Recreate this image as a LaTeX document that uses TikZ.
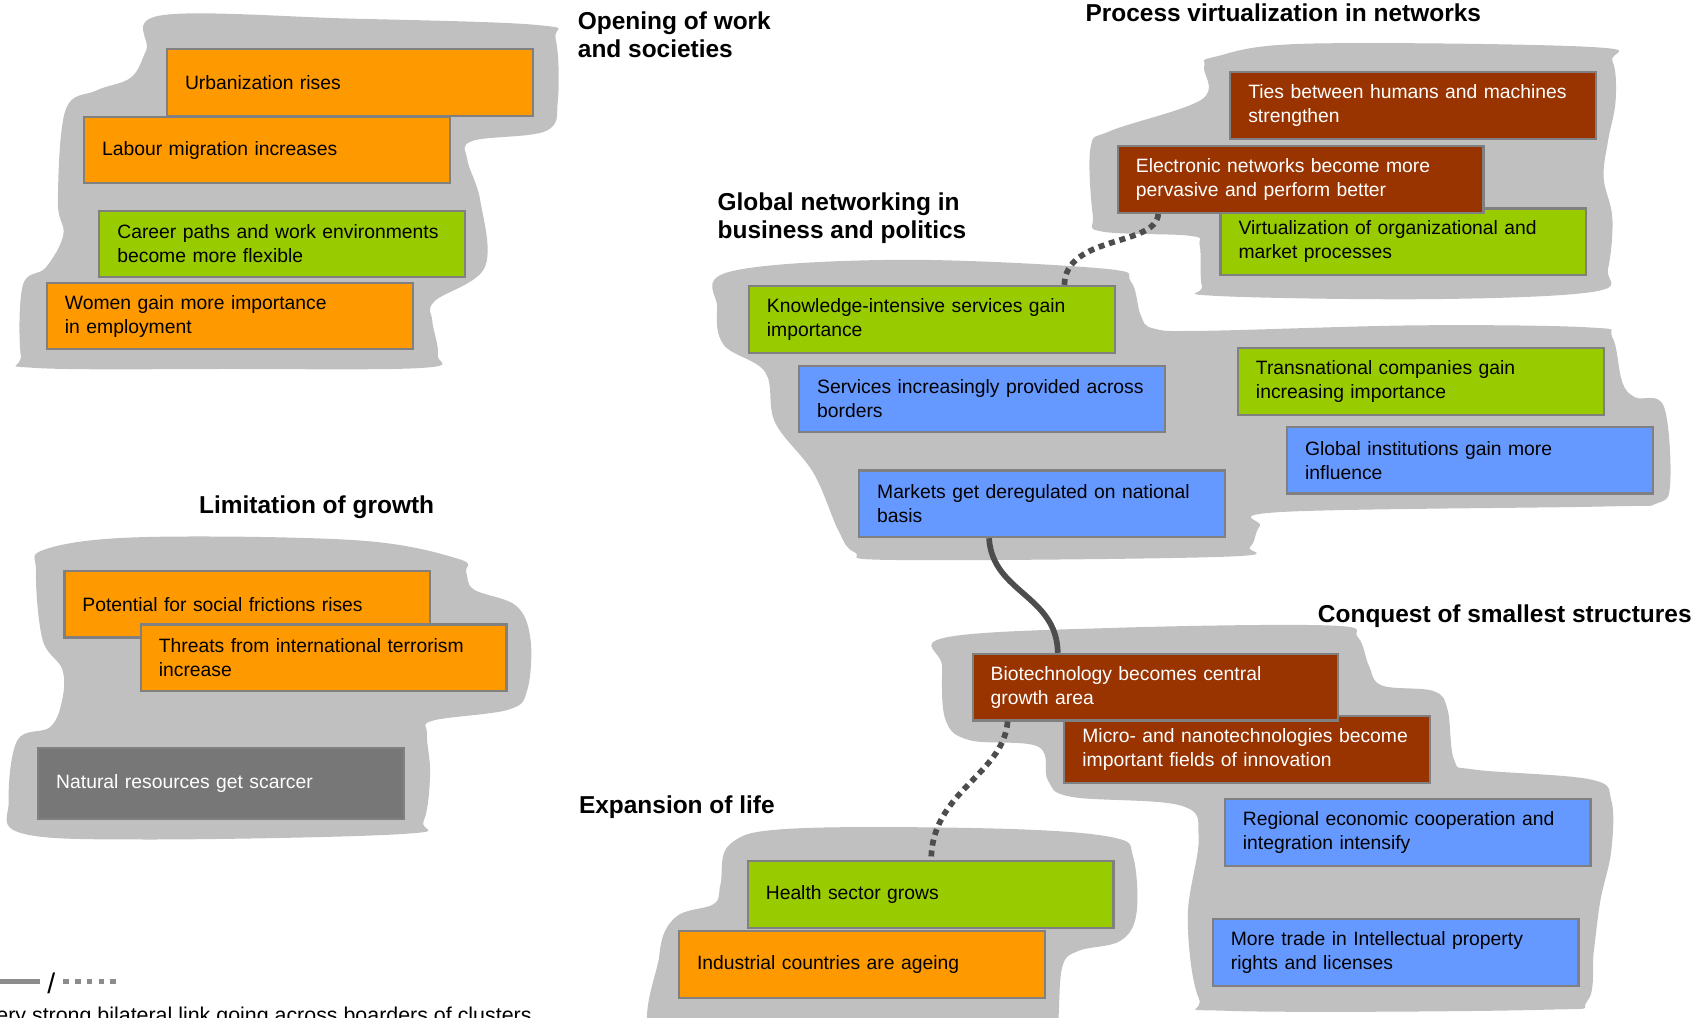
\documentclass[tikz,border=0pt]{standalone}
\usepackage{fontspec}
\setmainfont{Liberation Sans}
\usetikzlibrary{calc,positioning}

\definecolor{clusterbg}{HTML}{C0C0C0}
\definecolor{boxline}{HTML}{808080}
\definecolor{socCol}{HTML}{FF9900}
\definecolor{ecoCol}{HTML}{99CC00}
\definecolor{polCol}{HTML}{6699FF}
\definecolor{tecCol}{HTML}{993300}
\definecolor{envCol}{HTML}{777777}
\definecolor{linkCol}{HTML}{4D4D4D}
\definecolor{legendCol}{HTML}{8C8C8C}

\begin{document}
\begin{tikzpicture}
  [x=0.5pt,y=-0.5pt]

% define styles
\tikzstyle{trend} = [draw=boxline, line width=1pt, anchor=north west, minimum width=167.5pt, minimum height=30.5pt, text width=151pt, inner xsep=8.25pt, align=left, font=\fontsize{8.85}{11}\selectfont];
\tikzstyle{soc} = [fill=socCol];
\tikzstyle{eco} = [fill=ecoCol];
\tikzstyle{pol} = [fill=polCol];
\tikzstyle{tec} = [fill=tecCol, text=white];
\tikzstyle{env} = [fill=envCol, text=white];
\tikzstyle{heading} = [anchor=north west, inner sep=0pt, align=left, font=\fontsize{11.2}{13}\selectfont\bfseries];
\tikzstyle{blob} = [fill=clusterbg];
\tikzstyle{link} = [draw=linkCol, line width=2.6pt];
\tikzstyle{dotlink} = [link, dash pattern=on 2.75pt off 2.25pt];
\tikzstyle{legline} = [draw=legendCol, line width=2pt];

% define new commands
\newcommand{\trendbox}[4]{
  \node[trend, #2] (#1) at (#3) {#4};
}

\useasboundingbox (0,0) rectangle (1560,932);

% draw clusters
\fill[blob] plot[smooth cycle, tension=0.6] coordinates {(148,14) (320,17) (493,23) (509,36) (511,92) (500,120) (433,129) (428,146) (440,184) (444,245) (398,276) (396,294) (401,325) (387,337) (210,338) (32,337) (19,325) (21,261) (42,245) (58,215) (53,184) (60,101) (88,83) (120,71) (134,46)};
\fill[blob] plot[smooth cycle, tension=0.6] coordinates {(1113,52) (1197,40) (1457,43) (1477,56) (1480,92) (1473,129) (1469,163) (1477,200) (1473,246) (1461,267) (1312,274) (1113,271) (1101,262) (1099,225) (1090,216) (1009,212) (1001,197) (999,135) (1017,120) (1101,91) (1103,61)};
\fill[blob] plot[smooth cycle, tension=0.6] coordinates {(668,249) (822,238) (1010,246) (1036,258) (1045,289) (1057,301) (1104,303) (1300,298) (1457,300) (1477,309) (1486,350) (1498,364) (1524,372) (1530,442) (1518,461) (1468,464) (1174,469) (1154,482) (1145,501) (1121,510) (822,513) (783,506) (768,486) (745,433) (710,387) (701,341) (663,316) (657,282)};
\fill[blob] plot[smooth cycle, tension=0.6] coordinates {(866,584) (1026,575) (1219,573) (1244,584) (1254,610) (1266,628) (1313,633) (1326,650) (1332,696) (1351,705) (1457,714) (1476,733) (1476,779) (1466,825) (1460,871) (1454,917) (1413,925) (1126,926) (1098,914) (1088,840) (1098,767) (1082,738) (982,730) (960,715) (951,684) (888,678) (866,659) (863,610)};
\fill[blob] plot[smooth cycle, tension=0.6] coordinates {(669,773) (726,759) (913,759) (1019,767) (1038,785) (1041,837) (1026,862) (988,871) (973,886) (969,940) (963,962) (780,964) (607,960) (604,875) (619,840) (654,828) (660,810)};
\fill[blob] plot[smooth cycle, tension=0.6] coordinates {(42,503) (131,492) (328,495) (420,512) (427,524) (434,540) (473,555) (486,586) (483,632) (466,650) (397,660) (391,672) (394,709) (388,752) (368,764) (131,769) (19,763) (8,733) (16,678) (46,666) (57,641) (57,613) (39,586) (33,524)};

% opening of work and societies
\trendbox{urban}{soc}{152,44}{Urbanization rises}
\trendbox{labour}{soc}{76,106}{Labour migration increases}
\trendbox{career}{eco}{90,192}{Career paths and work environments\\become more flexible}
\trendbox{women}{soc}{42,258}{Women gain more importance\\in employment}

% process virtualization in networks
\trendbox{ties}{tec}{1126,65}{Ties between humans and machines\\strengthen}
\trendbox{virt}{eco}{1117,190}{Virtualization of organizational and\\market processes}
\trendbox{elec}{tec}{1023,133}{Electronic networks become more\\pervasive and perform better}

% global networking in business and politics
\trendbox{know}{eco}{685,261}{Knowledge-intensive services gain\\importance}
\trendbox{serv}{pol}{731,334}{Services increasingly provided across\\borders}
\trendbox{mkt}{pol}{786,430}{Markets get deregulated on national\\basis}
\trendbox{trans}{eco}{1133,318}{Transnational companies gain\\increasing importance}
\trendbox{inst}{pol}{1178,390}{Global institutions gain more\\influence}

% conquest of smallest structures
\trendbox{micro}{tec}{974,655}{Micro- and nanotechnologies become\\important fields of innovation}
\trendbox{bio}{tec}{890,598}{Biotechnology becomes central\\growth area}
\trendbox{region}{pol}{1121,731}{Regional economic cooperation and\\integration intensify}
\trendbox{trade}{pol}{1110,841}{More trade in Intellectual property\\rights and licenses}

% expansion of life
\trendbox{health}{eco}{684,788}{Health sector grows}
\trendbox{ageing}{soc}{621,852}{Industrial countries are ageing}

% limitation of growth
\trendbox{social}{soc}{58,522}{Potential for social frictions rises}
\trendbox{terror}{soc}{128,571}{Threats from international terrorism\\increase}
\trendbox{natural}{env, minimum height=32.5pt}{34,684}{Natural resources get scarcer}

% links across clusters
\draw[dotlink] ($(elec.south)+(-130.5,0)$) .. controls +(-2,30) and +(1,-46) .. ($(know.north)+(121.5,0)$);
\draw[link] ($(mkt.south)+(-48.5,0)$) .. controls +(3,50) and +(-1,-53) .. ($(bio.north)+(-89.5,0)$);
\draw[dotlink] ($(bio.south)+(-135.5,0)$) .. controls +(-4,49) and +(0,-63) .. ($(health.north)+(0.5,0)$);

% cluster headings
\node[heading] (hOpen) at (529,10) {Opening of work\\and societies};
\node[heading] (hVirt) at (994,3) {Process virtualization in networks};
\node[heading] (hGlobal) at (657,176) {Global networking in\\business and politics};
\node[heading] (hLimit) at (182,454) {Limitation of growth};
\node[heading, anchor=north east] (hSmall) at (1550,554) {Conquest of smallest structures};
\node[heading] (hLife) at (530,729) {Expansion of life};

% legend
\coordinate (legA) at (-5,899);
\coordinate (legB) at (37,899);
\coordinate (legC) at (58,899);
\coordinate (legD) at (110,899);
\draw[legline] (legA) -- (legB);
\node[font=\fontsize{13}{15}\selectfont] (slash) at (47,901) {/};
\draw[legline, dash pattern=on 2.5pt off 2.9pt] (legC) -- (legD);
\node[anchor=base east, font=\fontsize{9.8}{12}\selectfont] (legText) at (494,937) {Very strong bilateral link going across boarders of clusters};

\end{tikzpicture}
\end{document}
